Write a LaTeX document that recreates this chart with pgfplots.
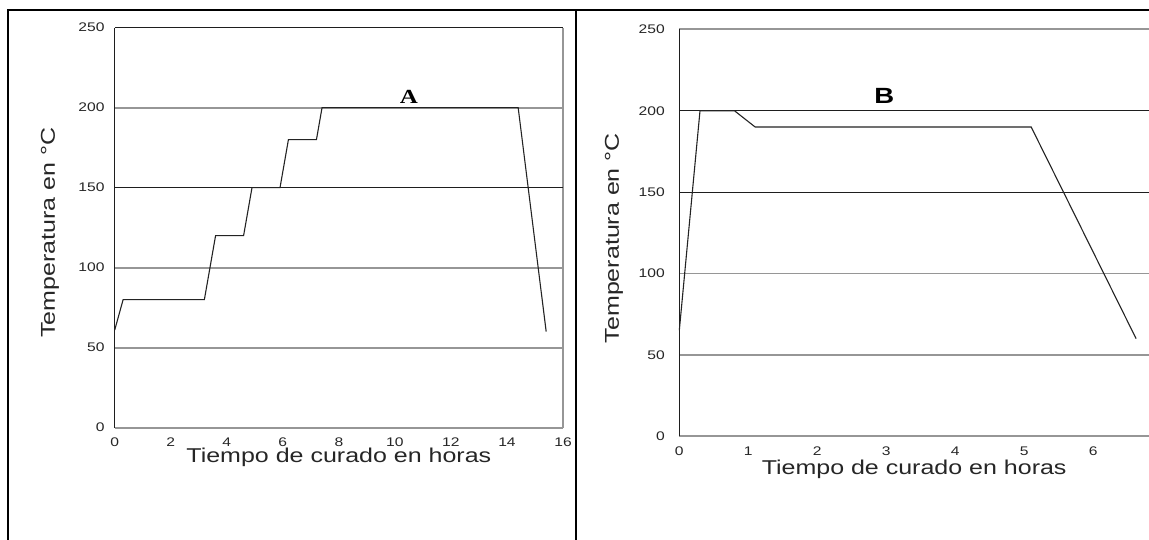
\documentclass[border=0pt]{standalone}
\usepackage{pgfplots}
\pgfplotsset{compat=1.18}
\usepackage{fontspec}
\setmainfont{Liberation Sans}[FakeStretch=1.25]
\newfontfamily\serifb{Liberation Serif}[FakeStretch=1.25]
\definecolor{gridgray}{RGB}{150,150,150}
\definecolor{lineblack}{RGB}{30,30,30}
\definecolor{datacol}{RGB}{35,35,35}
\pgfplotstableread{
x y
0 61
0.3 80
3.2 80
3.6 120
4.6 120
4.9 150
5.9 150
6.2 180
7.2 180
7.4 200
14.4 200
15.4 60
}\dataA
\pgfplotstableread{
x y
0 65
0.3 200
0.8 200
1.1 190
5.1 190
6.62 60
}\dataB
\pgfplotsset{
  panel/.style={
    scale only axis, anchor=south west, clip=false,
    ymin=0, ymax=250, ytick={0,50,...,250},
    axis line style={draw=none}, tick style={draw=none},
    /pgf/number format/assume math mode=true,
    tick label style={font=\fontsize{12.5}{12.5}\selectfont, text=black!85, inner sep=0pt},
    xticklabel style={anchor=north, yshift=-10pt},
    label style={font=\fontsize{20}{22}\selectfont, text=black!85},
    xlabel={Tiempo de curado en horas},
    ylabel={Temperatura en °C},
  }
}
\begin{document}
\begin{tikzpicture}[x=1pt,y=1pt]
\useasboundingbox (0,0) rectangle (1149,540);
% outer frame
\draw[line width=2pt] (8,0) -- (8,530) -- (1160,530);
\draw[line width=2pt] (576,0) -- (576,530);
% ---------- Panel A ----------
\begin{axis}[panel, at={(114.7pt,112.3pt)}, width=448.3pt, height=400pt,
  xmin=0, xmax=16, xtick={0,2,...,16},
  yticklabel style={anchor=east, xshift=-10pt},
  xlabel style={at={(axis description cs:0.5,0)}, anchor=base, yshift=-35.3pt},
  ylabel style={at={(axis description cs:-0.1443,0.4875)}, anchor=center},
]
\draw[gridgray, line width=1.8pt] (axis cs:0,0) -- (axis cs:16,0);
\draw[gridgray, line width=1.8pt] (axis cs:16,0) -- (axis cs:16,250);
\draw[gridgray, line width=1.8pt] (axis cs:0,50) -- (axis cs:16,50);
\draw[gridgray, line width=1.8pt] (axis cs:0,100) -- (axis cs:16,100);
\draw[gridgray, line width=1.8pt] (axis cs:0,200) -- (axis cs:16,200);
\draw[lineblack, line width=1.2pt] (axis cs:0,150) -- (axis cs:16,150);
\draw[lineblack, line width=1.2pt] (axis cs:0,250) -- (axis cs:16,250);
\draw[lineblack, line width=1.4pt] (axis cs:0,0) -- (axis cs:0,250);
\addplot[datacol, line width=1.1pt, mark=none] table[x=x,y=y] {\dataA};
\node[anchor=base, font=\serifb\bfseries\fontsize{20}{20}\selectfont] at (axis cs:10.5,202.5) {A};
\end{axis}
% ---------- Panel B ----------
\begin{axis}[panel, at={(679.3pt,103.7pt)}, width=469.7pt, height=406.9pt,
  xmin=0, xmax=6.807, xtick={0,1,...,6},
  yticklabel style={anchor=east, xshift=-14.3pt},
  xlabel style={at={(axis description cs:0.5,0)}, anchor=base, yshift=-38.7pt},
  ylabel style={at={(axis description cs:-0.139,0.487)}, anchor=center},
]
\draw[gridgray, line width=1.8pt] (axis cs:0,0) -- (axis cs:7,0);
\draw[gridgray, line width=1.8pt] (axis cs:0,50) -- (axis cs:7,50);
\draw[gridgray, line width=1.8pt] (axis cs:0,100) -- (axis cs:7,100);
\draw[gridgray, line width=1.8pt] (axis cs:0,250) -- (axis cs:7,250);
\draw[lineblack, line width=1.2pt] (axis cs:0,150) -- (axis cs:7,150);
\draw[lineblack, line width=1.2pt] (axis cs:0,200) -- (axis cs:7,200);
\draw[lineblack, line width=1.4pt] (axis cs:0,0) -- (axis cs:0,250);
\addplot[datacol, line width=1.1pt, mark=none] table[x=x,y=y] {\dataB};
\node[anchor=base, font=\bfseries\fontsize{22}{22}\selectfont] at (axis cs:2.97,204.5) {B};
\end{axis}
\end{tikzpicture}
\end{document}
